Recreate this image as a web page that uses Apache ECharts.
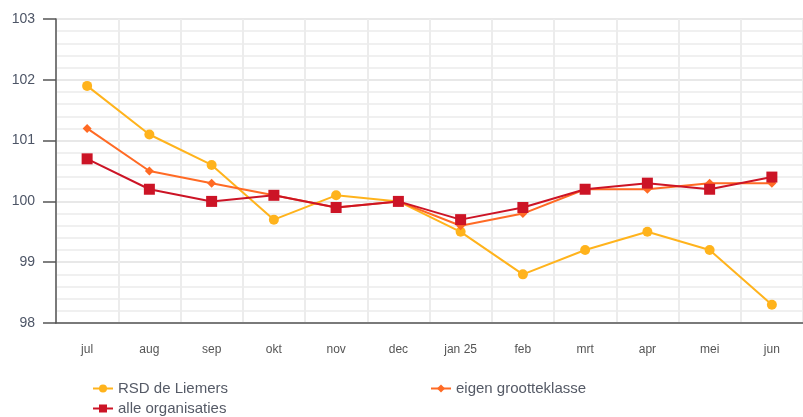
<!DOCTYPE html>
<html>
<head>
<meta charset="utf-8">
<script src="https://cdn.jsdelivr.net/npm/echarts@6/dist/echarts.min.js"></script>
<style>html,body{margin:0;padding:0;background:#fff}#c{width:803px;height:417px}</style>
</head>
<body>
<div id="c"></div>
<script>
var categories = ['jul','aug','sep','okt','nov','dec','jan 25','feb','mrt','apr','mei','jun'];
var rsdDeLiemers = [101.9, 101.1, 100.6, 99.7, 100.1, 100.0, 99.5, 98.8, 99.2, 99.5, 99.2, 98.3];
var eigenGrootteklasse = [101.2, 100.5, 100.3, 100.1, 99.9, 100.0, 99.6, 99.8, 100.2, 100.2, 100.3, 100.3];
var alleOrganisaties = [100.7, 100.2, 100.0, 100.1, 99.9, 100.0, 99.7, 99.9, 100.2, 100.3, 100.2, 100.4];
var yMin = 98, yMax = 103, yStep = 1;

var C_YEL = '#FFB31C', C_ORA = '#FF6A24', C_RED = '#CC1426';
var FONT = 'Arial, "Liberation Sans", sans-serif';

function legendAt(name, left, top) {
  return {
    data: [name], left: left, top: top, itemWidth: 20, itemHeight: 10, itemGap: 6,
    padding: 0, selectedMode: false,
    textStyle: { fontFamily: FONT, fontSize: 15, color: '#555a66', padding: [0,0,0,0] }
  };
}

var chart = echarts.init(document.getElementById('c'), null, { renderer: 'canvas' });
chart.setOption({
  animation: false,
  backgroundColor: '#ffffff',
  grid: { left: 56, top: 19, width: 752, bottom: 94, containLabel: false },
  legend: [
    legendAt('RSD de Liemers', 92, 381),
    legendAt('eigen grootteklasse', 430, 381),
    legendAt('alle organisaties', 92, 401)
  ],
  xAxis: {
    type: 'category', data: categories, boundaryGap: true,
    axisLine: { show: true, lineStyle: { color: '#555', width: 1.5 } },
    axisTick: { show: false },
    axisLabel: { margin: 21, fontFamily: FONT, fontSize: 12, color: '#555' },
    splitLine: { show: true, lineStyle: { color: '#ececec', width: 2 } }
  },
  yAxis: {
    type: 'value', min: yMin, max: yMax, interval: yStep,
    axisLine: { show: true, lineStyle: { color: '#555', width: 1.5 } },
    axisTick: { show: true, length: 13, lineStyle: { color: '#555', width: 1.5 } },
    axisLabel: { margin: 21, fontFamily: FONT, fontSize: 14, color: '#4d5566' },
    splitLine: { show: true, lineStyle: { color: '#e8e8e8', width: 2 } },
    minorTick: { show: false, splitNumber: 5 },
    minorSplitLine: { show: true, lineStyle: { color: '#f0f0f0', width: 2 } }
  },
  series: [
    { name: 'RSD de Liemers', type: 'line', data: rsdDeLiemers, symbol: 'circle', symbolSize: 10,
      itemStyle: { color: C_YEL }, lineStyle: { color: C_YEL, width: 2 }, z: 2 },
    { name: 'eigen grootteklasse', type: 'line', data: eigenGrootteklasse, symbol: 'diamond', symbolSize: 9,
      itemStyle: { color: C_ORA }, lineStyle: { color: C_ORA, width: 2 }, z: 3 },
    { name: 'alle organisaties', type: 'line', data: alleOrganisaties, symbol: 'rect', symbolSize: 11,
      itemStyle: { color: C_RED }, lineStyle: { color: C_RED, width: 2 }, z: 4 }
  ]
});
</script>
</body>
</html>
